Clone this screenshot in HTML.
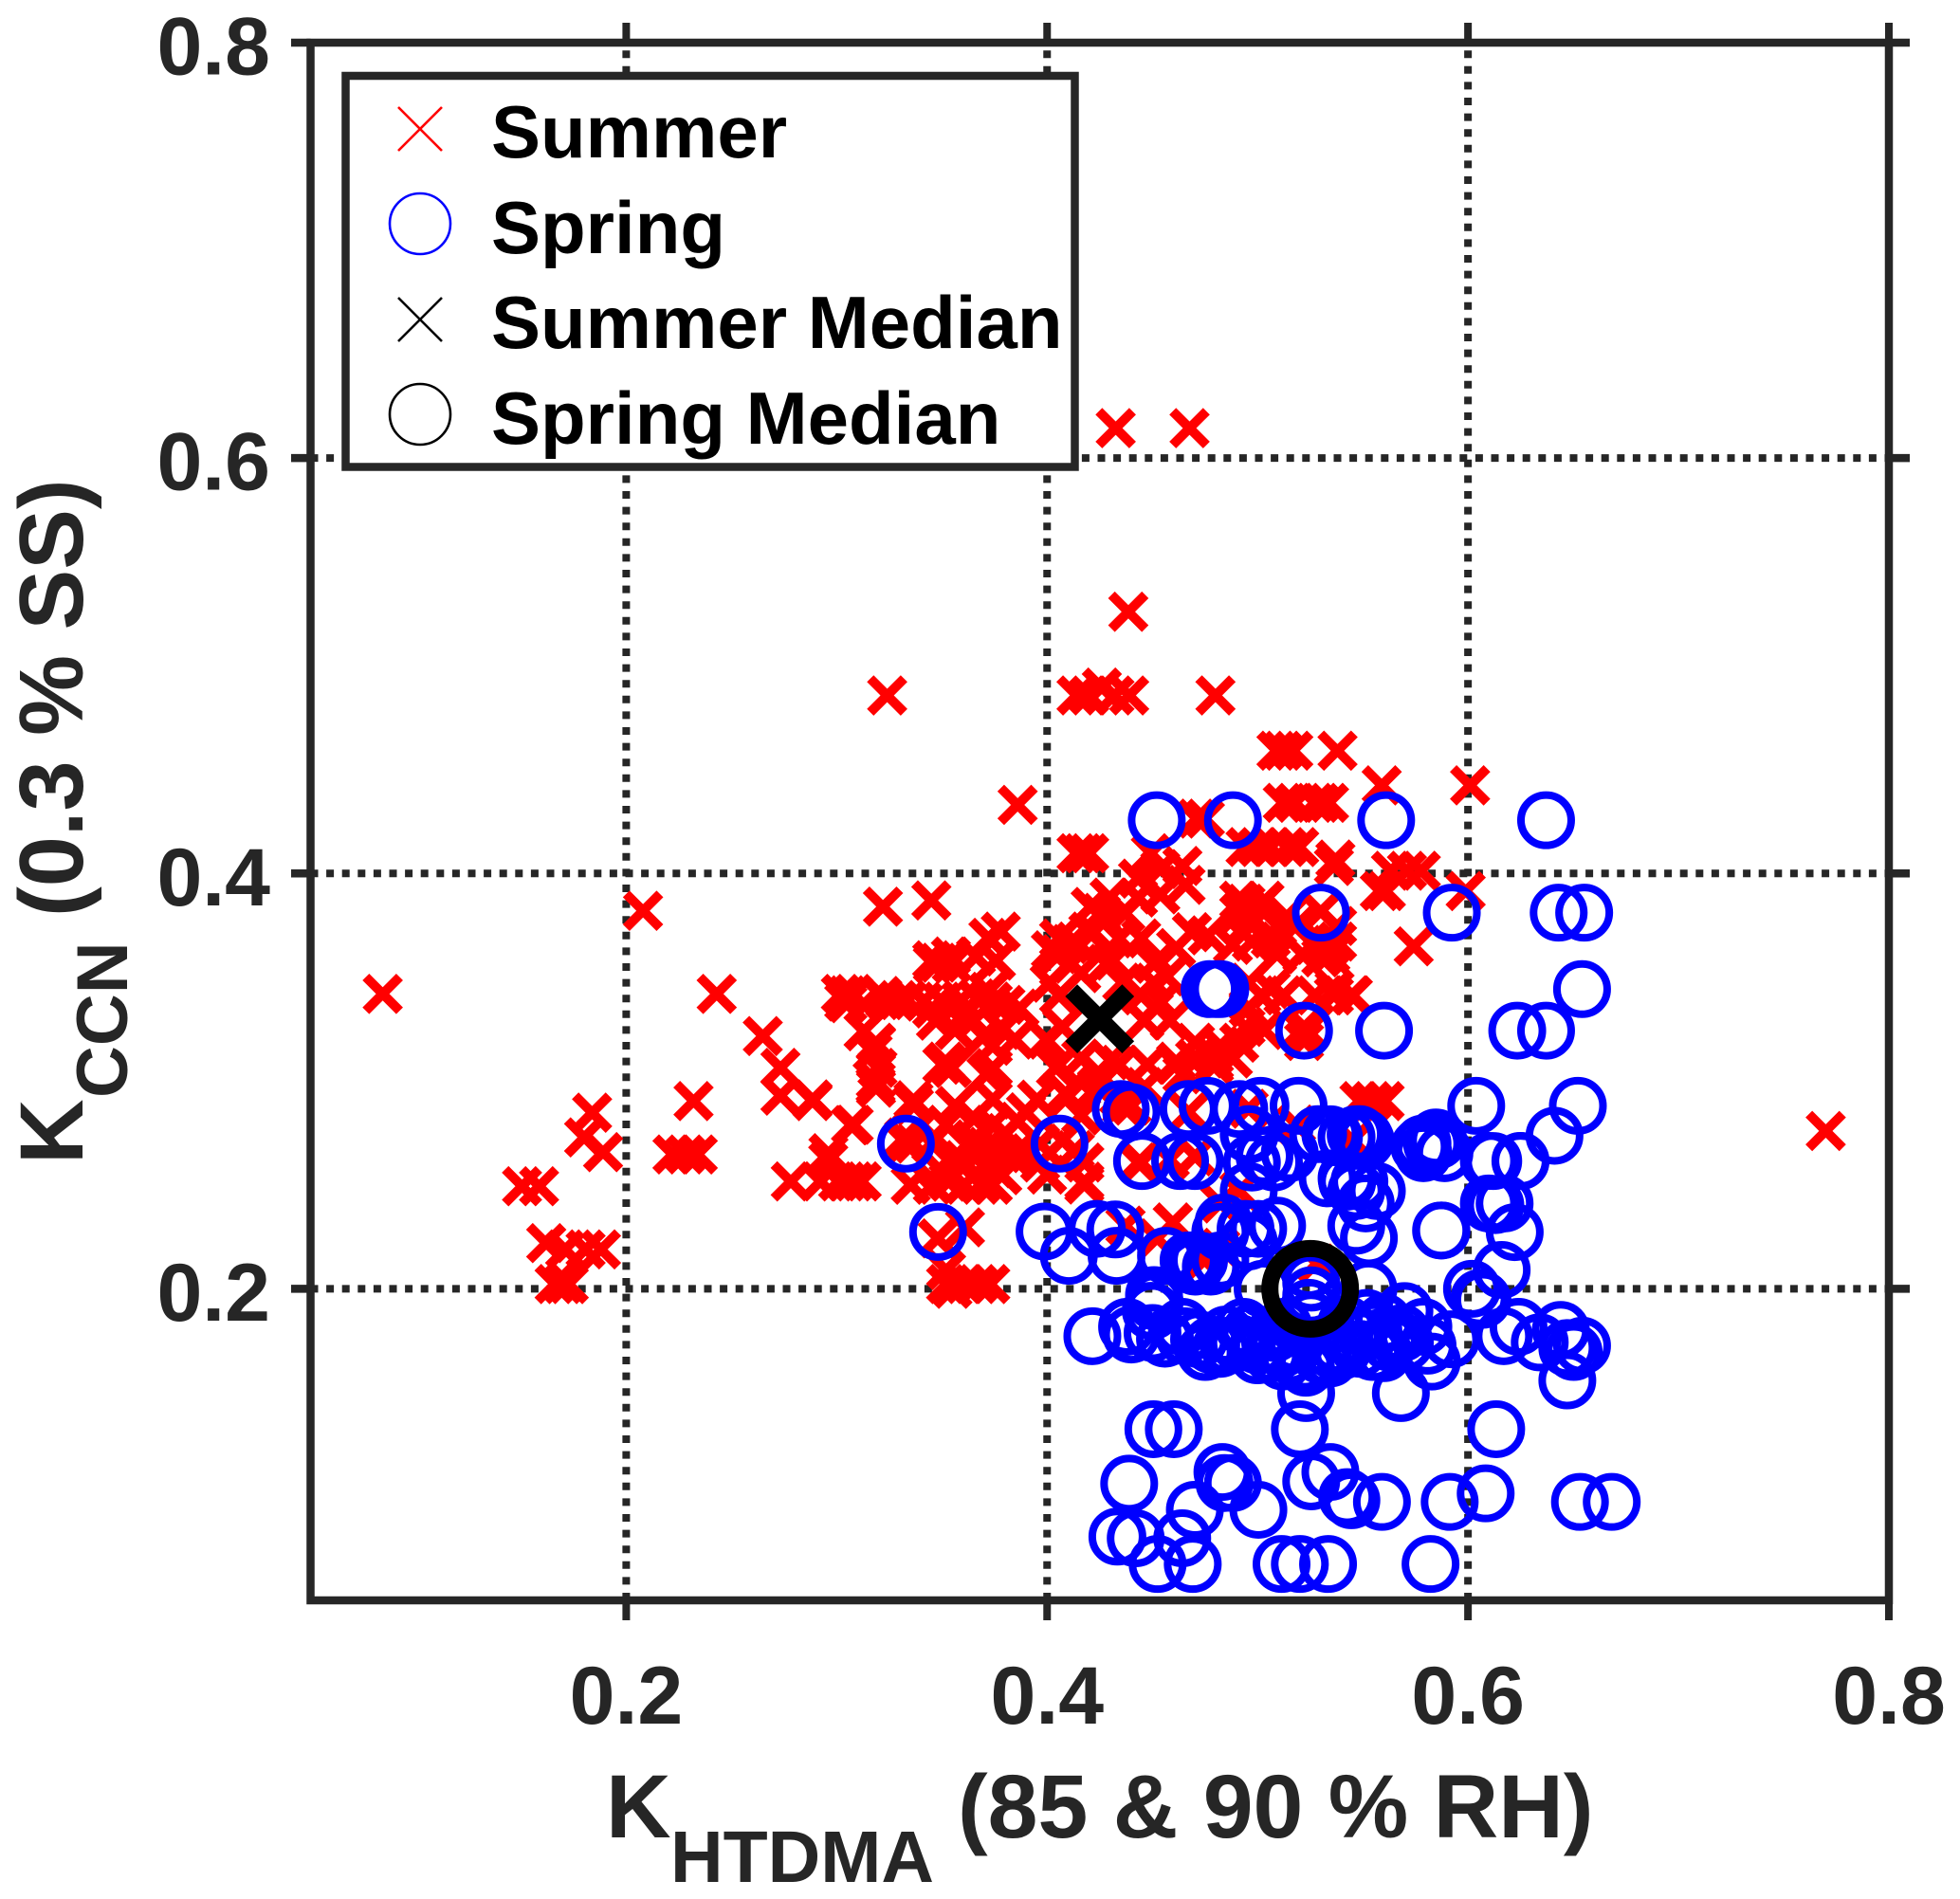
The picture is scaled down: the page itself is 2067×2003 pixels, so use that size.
<!DOCTYPE html>
<html lang="en">
<head>
<meta charset="utf-8">
<title>KCCN vs KHTDMA scatter</title>
<style>
html,body{margin:0;padding:0;background:#fff;}
svg{display:block;}
text{font-family:"Liberation Sans",Arial,sans-serif;font-weight:700;}
</style>
</head>
<body>
<svg id="chart" xmlns="http://www.w3.org/2000/svg" width="2067" height="2003" viewBox="0 0 2067 2003">
  <rect x="0" y="0" width="2067" height="2003" fill="#fff"/>
  <g id="grid"></g>
  <g id="summer"></g>
  <g id="spring"></g>
  <g id="medians"></g>
  <g id="axes"></g>
  <g id="ticklabels"></g>

  <g fill="#262626">
    <text x="639" y="1938" font-size="95">K</text>
    <text x="707" y="1985" font-size="77">HTDMA</text>
    <text x="1010" y="1938" font-size="95">(85 &amp; 90 % RH)</text>
  </g>
  <g fill="#262626">
    <text transform="translate(87,1228) rotate(-90)" font-size="95">K</text>
    <text transform="translate(134,1158) rotate(-90)" font-size="76">CCN</text>
    <text transform="translate(87,967) rotate(-90)" font-size="95.5">(0.3 % SS)</text>
  </g>

  <g>
    <rect x="364.5" y="80" width="769" height="412.5" fill="#fff" stroke="#262626" stroke-width="8.5"/>
    <g>
      <path d="M420 113L466 159M466 113L420 159" stroke="#ff0000" stroke-width="2.6" fill="none"/>
      <text x="518" y="166" font-size="78" fill="#000">Summer</text>
    </g>
    <g>
      <circle cx="443" cy="236" r="32" stroke="#0000ff" stroke-width="2.6" fill="none"/>
      <text x="518" y="267" font-size="78" fill="#000">Spring</text>
    </g>
    <g>
      <path d="M420 314L466 360M466 314L420 360" stroke="#000" stroke-width="2.6" fill="none"/>
      <text x="518" y="367" font-size="78" fill="#000">Summer Median</text>
    </g>
    <g>
      <circle cx="443" cy="437" r="32" stroke="#000" stroke-width="2.6" fill="none"/>
      <text x="518" y="468" font-size="78" fill="#000">Spring Median</text>
    </g>
  </g>
</svg>
<script>
const xTicks = [0.2, 0.4, 0.6, 0.8];
const yTicks = [0.2, 0.4, 0.6, 0.8];
const xTickLabels = ['0.2', '0.4', '0.6', '0.8'];
const yTickLabels = ['0.2', '0.4', '0.6', '0.8'];
const xDomain = [0.05, 0.8];
const yDomain = [0.05, 0.8];
const summerMedian = [0.425, 0.33];
const springMedian = [0.525, 0.2];

const summerPoints = [
[.0843,.342],[.4326,.6144],[.4677,.6144],[.4386,.526],[.324,.4857],[.414,.4857],[.420,.4857],[.426,.4895],[.432,.4857],[.439,.4857],[.480,.4857],
[.509,.4591],[.512,.4591],[.517,.4591],[.538,.4591],[.559,.4424],[.601,.4424],[.386,.433],[.512,.434],[.518,.434],[.527,.434],[.5296,.434],[.534,.434],
[.471,.4264],[.475,.4264],[.414,.4097],[.417,.4097],[.420,.4097],[.4943,.4127],[.5003,.4127],[.5063,.4127],[.5138,.4127],[.5198,.4127],
[.322,.384],[.345,.387],[.208,.382],[.5363,.4036],[.537,.4067],[.5634,.4013],[.571,.4013],[.5776,.4013],[.5581,.3915],[.561,.3915],[.5989,.3915],[.530,.3816],
[.5378,.3672],[.5378,.3747],[.5348,.3656],[.5742,.3649],[.5453,.3413],[.5363,.3413],[.5273,.3413],[.5366,.3443],[.5221,.3193],[.5221,.3261],[.5484,.2904],[.5544,.2904],[.5604,.2904],
[.77,.276],[.243,.342],[.2649,.3217],[.2733,.3064],[.2733,.293],[.2885,.2904],[.232,.2904],[.222,.2647],[.2282,.2647],[.234,.2647],
[.1838,.2848],[.180,.2729],[.189,.2658],[.1505,.2494],[.1586,.2494],[.162,.222],[.171,.219],[.1807,.219],[.188,.219],[.166,.2023],[.170,.2023],[.1727,.2023],
[.3072,.2788],[.2782,.2517],[.296,.2616],[.2923,.2517],[.3007,.2517],[.3045,.2517],[.3082,.2517],[.3119,.2517],[.3194,.3064],[.3185,.298],[.336,.289],[.333,.2699],
[.348,.2243],[.361,.2296],[.352,.209],[.352,.2023],[.355,.2],[.361,.2023],[.367,.2023],[.373,.2023],
[.4913,.3808],[.4958,.3808],[.4943,.3854],[.5003,.3839],[.4958,.3763],[.5033,.3869],[.4913,.3869],[.4883,.3656],[.4973,.3672],[.5063,.3687],[.5138,.3793],[.5093,.3611],[.5213,.3611],[.5303,.3596],[.5183,.3747],
[.5063,.3443],[.5123,.3413],[.5018,.3413],[.4958,.3474],[.4958,.3353],[.5033,.3246],[.4943,.3261],[.4913,.3185],[.4793,.3079],[.4883,.3109],[.4613,.3079],[.4703,.3109],[.4643,.3033],
[.4507,.3565],[.4507,.3474],[.4538,.3383],[.4583,.3292],[.4447,.3413],[.4462,.3292],[.4568,.3504],[.4613,.3641],[.4688,.3717],[.4763,.3702],[.4432,.3975],[.4538,.4021],[.4643,.4036],[.4658,.3945],[.4538,.3899],[.4493,.4097],[.4432,.3884],
[.4297,.3884],[.4207,.3839],[.4282,.3778],[.4372,.3808],[.4132,.3672],[.4222,.3717],[.4057,.3687],[.4342,.3687],[.4447,.3687],[.4282,.3565],[.4162,.352],[.4057,.3611],[.4057,.3413],[.4357,.3474],[.4072,.3261],[.4042,.3064],[.4162,.3109],[.4342,.3079],[.4477,.3079],[.4237,.2972],[.4102,.2927],[.4823,.317],[.4793,.3124],[.4703,.3185],
[.3051,.3413],[.3051,.3375],[.3036,.3383],[.3231,.339],[.3291,.339],[.3337,.339],[.3412,.3383],[.3502,.3383],[.3592,.339],[.3667,.3398],[.3742,.3383],[.3802,.3367],
[.3457,.3565],[.3547,.3565],[.3757,.358],[.4012,.3474],[.4117,.3565],[.4313,.358],[.3171,.314],[.3186,.3185],[.3186,.3003],[.3081,.279],[.3367,.2881],[.3502,.3079],[.3517,.3094],[.3547,.3063],[.3742,.3063],[.3712,.3033],[.3697,.3215],[.3562,.3246],[.3472,.3291],[.3652,.3291],[.3787,.3246],[.3742,.317],
[.3847,.32],[.3997,.32],[.4057,.3079],[.4252,.3033],[.4463,.2972],[.4613,.3094],[.4793,.3094],[.4342,.2927],[.4162,.2835],[.4087,.2942],[.3952,.2911],[.3742,.2911],[.3742,.279],[.3652,.282],[.3562,.2881],[.3862,.2805],
[.3712,.2684],[.3787,.2653],[.3652,.2668],[.3562,.2638],[.3487,.2577],[.3607,.2501],[.3682,.2501],[.3742,.2501],[.3787,.2547],[.3697,.2592],[.3352,.2501],[.3457,.2501],[.3532,.2516],[.3862,.2668],[.3967,.2699],[.3967,.2608],[.4072,.2714],[.4177,.2608],[.4177,.2516],[.4132,.2668],
[.4448,.2608],[.4703,.2638],[.4597,.2319],[.4373,.2304],[.3321,.2729],[.3367,.2699],[.2961,.2653],[.2886,.2912],
[.4402,.2882],[.4357,.2882],[.4673,.2851],[.4958,.2867],[.5183,.2791],[.5453,.2715],[.4432,.2608],[.4583,.2623],[.4703,.2639],[.4177,.2502],[.4372,.2304],[.4598,.2319],[.4913,.2471],[.4823,.2411],[.4748,.2137],[.4823,.2198],[.5281,.2122],[.4523,.2243],
[.5305,.3671],[.5265,.3656],[.5346,.3611],[.5446,.3413],[.5225,.3231],
[.3484,.357],[.3454,.3582],[.3543,.36],[.3721,.369],[.3662,.36],[.378,.372],[.4018,.363],[.4107,.366],[.4196,.372],[.4255,.381],[.302,.342],[.308,.342],[.3128,.337],[.3217,.341],[.3454,.335],[.3602,.332],[.372,.343],[.3869,.335],
[.3128,.324],[.3187,.318],[.3187,.2968],[.3365,.2908],[.3068,.2788],
[.352,.279],[.365,.272],[.38,.275],[.39,.285],[.36,.262],[.375,.258],[.345,.27],[.385,.262],[.40,.255],[.43,.31]
];

const springPoints = [
[.4521,.4256],[.4883,.4256],[.5611,.4256],[.6371,.4256],[.5301,.3811],[.5923,.3811],[.6431,.3811],[.6552,.3811],[.6542,.3443],[.4772,.3443],[.4803,.3443],[.4823,.3443],
[.5221,.3243],[.5601,.3243],[.6234,.3243],[.6371,.3243],[.6039,.2881],[.6522,.2881],[.6411,.2737],[.625,.2615],[.612,.2615],[.4059,.2699],[.3329,.2699],[.3482,.2274],
[.435,.2866],[.44,.2851],[.4672,.2866],[.4762,.2881],[.4913,.2866],[.5014,.2881],[.5195,.2881],[.4451,.2615],[.4632,.2615],[.4702,.2615],[.4963,.2744],
[.5848,.2729],[.5888,.2653],[.5788,.2653],[.5346,.2744],[.5466,.2744],[.5507,.2729],[.5426,.2516],[.5567,.2471],
[.4958,.2745],[.5033,.2639],[.5153,.2654],[.4973,.2608],[.5078,.2608],[.5288,.2745],[.5423,.273],[.5484,.2745],[.5363,.273],[.5514,.2715],[.5333,.2532],[.5423,.2532],[.5484,.2517],[.5514,.2411],[.5469,.2471],[.5529,.2244],[.5469,.2304],
[.5784,.2699],[.5769,.2684],[.5829,.2699],[.5859,.2715],[.5874,.2281],[.6099,.2616],[.6249,.2616],[.6099,.2411],[.6174,.2411],
[.4958,.2471],[.4838,.2319],[.4823,.2274],[.4943,.2289],[.5003,.2289],[.5093,.2304],[.4958,.2228],[.4688,.2137],[.4703,.2107],[.4778,.2107],[.4823,.2137],
[.3988,.2276],[.4236,.2289],[.4324,.2286],[.4103,.2159],[.433,.2159],[.4565,.2159],[.4672,.2137],[.4722,.2137],
[.4215,.1772],[.438,.1817],[.4501,.1787],[.4501,.1893],[.4511,.1939],[.4652,.1772],[.4642,.1817],[.4752,.1696],[.4823,.1711],[.4722,.1757],[.4933,.1817],[.5064,.1688],[.5225,.165],[.5084,.1787],
[.5231,.1498],[.5201,.1324],[.5681,.1498],[.6472,.1559],[.6134,.1324],[.4505,.1324],[.4602,.1324],
[.439,.1062],[.4833,.1118],[.4883,.1065],[.4843,.1065],[.5346,.1118],[.5255,.1073],[.5426,.0997],[.5446,.0982],[.5591,.0974],[.5004,.0936],[.4702,.0936],[.5913,.0974],[.6084,.1015],[.6532,.0974],[.6683,.0974],
[.4334,.0807],[.4421,.0799],[.4642,.0799],[.4525,.0675],[.4692,.0675],[.5114,.0675],[.5201,.0675],[.5335,.0675],[.5822,.0675],
[.5872,.2281],[.616,.2091],[.6019,.2],[.6069,.1947],[.6222,.2273],[.613,.2403],[.624,.1817],[.617,.1772],[.6341,.1742],[.6441,.1802],[.6542,.1726],[.6502,.1696],[.6472,.1715],
[.5245,.2091],[.5255,.203],[.5255,.1969],[.5255,.1848],[.5245,.1909],[.5527,.2],[.5698,.1893],[.5788,.1817],[.5808,.1726],[.5828,.165],[.5919,.1757],[.5687,.1787],[.5547,.1696],[.5486,.1711],[.5346,.1665],[.4963,.1787],[.5004,.1726],[.4863,.1726],[.5124,.1817],[.5627,.1741],
[.4508,.197],[.4493,.1894],[.44,.178],[.456,.176],[.478,.173],[.5,.168],[.512,.165],[.53,.168],[.54,.17],[.56,.169],[.57,.174],[.555,.18],[.51,.172],[.518,.174],[.542,.183],[.545,.178],[.552,.186],[.56,.184],[.515,.168],[.523,.162],[.538,.173],[.565,.177],[.485,.178],[.491,.174],[.5024,.2],[.6054,.1955]
];

const SVG_NS = 'http://www.w3.org/2000/svg';
const plotLeft = 327.5, plotRight = 1992, plotTop = 45, plotBottom = 1688;
const INK = '#262626';
function xScale(v) { return plotLeft + (v - xDomain[0]) / (xDomain[1] - xDomain[0]) * (plotRight - plotLeft); }
function yScale(v) { return plotBottom - (v - yDomain[0]) / (yDomain[1] - yDomain[0]) * (plotBottom - plotTop); }
function svgEl(tag, attrs, parent) {
  const el = document.createElementNS(SVG_NS, tag);
  for (const k in attrs) el.setAttribute(k, attrs[k]);
  parent.appendChild(el);
  return el;
}
const gridG = document.getElementById('grid');
const axesG = document.getElementById('axes');
const labelsG = document.getElementById('ticklabels');
const summerG = document.getElementById('summer');
const springG = document.getElementById('spring');
const mediansG = document.getElementById('medians');

xTicks.forEach(function (t, i) {
  const x = xScale(t);
  if (t < xDomain[1]) {
    const g = svgEl('line', {x1: x, y1: plotBottom, x2: x, y2: plotTop, stroke: INK, 'stroke-width': 8, 'stroke-dasharray': '8 8.6'}, gridG);
    
    
  }
  const b = svgEl('line', {x1: x, y1: plotBottom, x2: x, y2: 1709, stroke: INK, 'stroke-width': 8}, axesG);
  
  
  const u = svgEl('line', {x1: x, y1: plotTop, x2: x, y2: 24, stroke: INK, 'stroke-width': 8}, axesG);
  
  
  const lab = svgEl('text', {x: x, y: 1818, 'text-anchor': 'middle', 'font-size': 86, fill: INK}, labelsG);
  lab.textContent = xTickLabels[i];
  
  
});

yTicks.forEach(function (t, i) {
  const y = yScale(t);
  if (t < yDomain[1]) {
    const g = svgEl('line', {x1: plotLeft, y1: y, x2: plotRight, y2: y, stroke: INK, 'stroke-width': 8, 'stroke-dasharray': '8 8.6'}, gridG);
    
    
  }
  const l = svgEl('line', {x1: 307, y1: y, x2: plotLeft, y2: y, stroke: INK, 'stroke-width': 8.5}, axesG);
  
  
  const r = svgEl('line', {x1: plotRight, y1: y, x2: 2014, y2: y, stroke: INK, 'stroke-width': 8.5}, axesG);
  
  
  const lab = svgEl('text', {x: 285, y: y + 33.5, 'text-anchor': 'end', 'font-size': 86, fill: INK}, labelsG);
  lab.textContent = yTickLabels[i];
  
  
});

const frame = svgEl('rect', {x: plotLeft, y: plotTop, width: plotRight - plotLeft, height: plotBottom - plotTop, fill: 'none', stroke: INK, 'stroke-width': 8.5}, axesG);



function crossPath(px, py, h) {
  return 'M' + (px - h) + ' ' + (py - h) + 'L' + (px + h) + ' ' + (py + h) + 'M' + (px + h) + ' ' + (py - h) + 'L' + (px - h) + ' ' + (py + h);
}

summerPoints.forEach(function (p) {
  const m = svgEl('path', {d: crossPath(xScale(p[0]), yScale(p[1]), 17.8), stroke: '#ff0000', 'stroke-width': 10, fill: 'none'}, summerG);
  
  
});

springPoints.forEach(function (p) {
  const m = svgEl('circle', {cx: xScale(p[0]), cy: yScale(p[1]), r: 26.5, stroke: '#0000ff', 'stroke-width': 8, fill: 'none'}, springG);
  
  
});

const mx = svgEl('path', {d: crossPath(xScale(summerMedian[0]), yScale(summerMedian[1]), 30), stroke: '#000', 'stroke-width': 18, fill: 'none'}, mediansG);


const mc = svgEl('circle', {cx: xScale(springMedian[0]), cy: yScale(springMedian[1]), r: 42.5, stroke: '#000', 'stroke-width': 18, fill: 'none'}, mediansG);


</script>
</body>
</html>
